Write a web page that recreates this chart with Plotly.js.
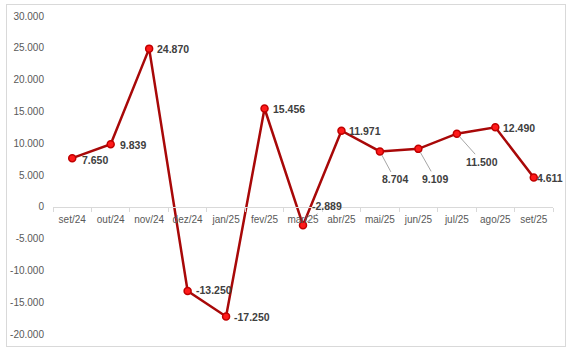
<!DOCTYPE html>
<html>
<head>
<meta charset="utf-8">
<script src="https://cdn.plot.ly/plotly-3.0.1.min.js"></script>
<style>
html,body{margin:0;padding:0;background:#fff;}
#wrap{position:relative;width:567px;height:352px;}
#chart{position:absolute;left:0;top:0;width:567px;height:352px;}
#frame{position:absolute;left:6px;top:4px;width:558px;height:341px;border:1px solid #d9d9d9;pointer-events:none;}
</style>
</head>
<body>
<div id="wrap"><div id="chart"></div><div id="frame"></div></div>
<script>
const categories = ["set/24","out/24","nov/24","dez/24","jan/25","fev/25","mar/25","abr/25","mai/25","jun/25","jul/25","ago/25","set/25"];
const values = [7650, 9839, 24870, -13250, -17250, 15456, -2889, 11971, 8704, 9109, 11500, 12490, 4611];
const valueLabels = ["7.650","9.839","24.870","-13.250","-17.250","15.456","-2.889","11.971","8.704","9.109","11.500","12.490","4.611"];
const yTickVals = [-20000,-15000,-10000,-5000,0,5000,10000,15000,20000,25000,30000];
const yTickText = ["-20.000","-15.000","-10.000","-5.000","0","5.000","10.000","15.000","20.000","25.000","30.000"];

// label offsets (px) and whether a leader line is drawn
const labelOffsets = [
  {dx:23, dy:2, lead:false},
  {dx:22, dy:1, lead:false},
  {dx:24, dy:0, lead:false},
  {dx:26, dy:-1, lead:false},
  {dx:26, dy:0, lead:false},
  {dx:24, dy:0, lead:false},
  {dx:24, dy:-19, lead:true},
  {dx:24, dy:0, lead:false},
  {dx:15, dy:28, lead:true},
  {dx:17, dy:30, lead:true},
  {dx:25, dy:28, lead:true},
  {dx:24, dy:1, lead:false},
  {dx:16, dy:1, lead:false}
];

const annotations = categories.map((c,i)=>{
  const o = labelOffsets[i];
  const base = {
    x: c, y: values[i], xref:'x', yref:'y',
    text: '<b>'+valueLabels[i]+'</b>',
    font:{family:'Liberation Sans, Arial, sans-serif', size:10.5, color:'#404040'}
  };
  if (o.lead) {
    return Object.assign(base, {showarrow:true, ax:o.dx, ay:o.dy, arrowhead:0, arrowwidth:1, arrowcolor:'#a6a6a6', standoff:4});
  }
  return Object.assign(base, {showarrow:false, xshift:o.dx, yshift:-o.dy});
});

const trace = {
  x: categories, y: values, type:'scatter', mode:'lines+markers',
  line:{color:'#a80808', width:2.5},
  marker:{size:7, color:'#ff1a1a', line:{color:'#c00000', width:1.5}},
  hoverinfo:'none'
};

const layout = {
  width:567, height:352,
  margin:{l:53, r:14, t:16, b:18, pad:0},
  paper_bgcolor:'rgba(0,0,0,0)', plot_bgcolor:'rgba(0,0,0,0)',
  showlegend:false,
  font:{family:'Liberation Sans, Arial, sans-serif', size:10, color:'#595959'},
  xaxis:{
    type:'category', anchor:'free', position:0.4,
    showline:true, linecolor:'#d9d9d9', linewidth:1,
    ticks:'outside', tickson:'boundaries', ticklen:4, tickcolor:'#d9d9d9',
    showgrid:false, zeroline:false, tickangle:0, automargin:false,
    ticklabelstandoff:3,
    tickfont:{size:10, color:'#595959'},
    range:[-0.5, 12.5], fixedrange:true
  },
  yaxis:{
    range:[-20000, 30000], tickvals:yTickVals, ticktext:yTickText,
    showgrid:false, zeroline:false, showline:false, ticks:'',
    ticklabelstandoff:8,
    tickfont:{size:10, color:'#595959'}, fixedrange:true
  },
  annotations: annotations
};

Plotly.newPlot('chart',[trace],layout,{displayModeBar:false, staticPlot:true});
</script>
</body>
</html>
